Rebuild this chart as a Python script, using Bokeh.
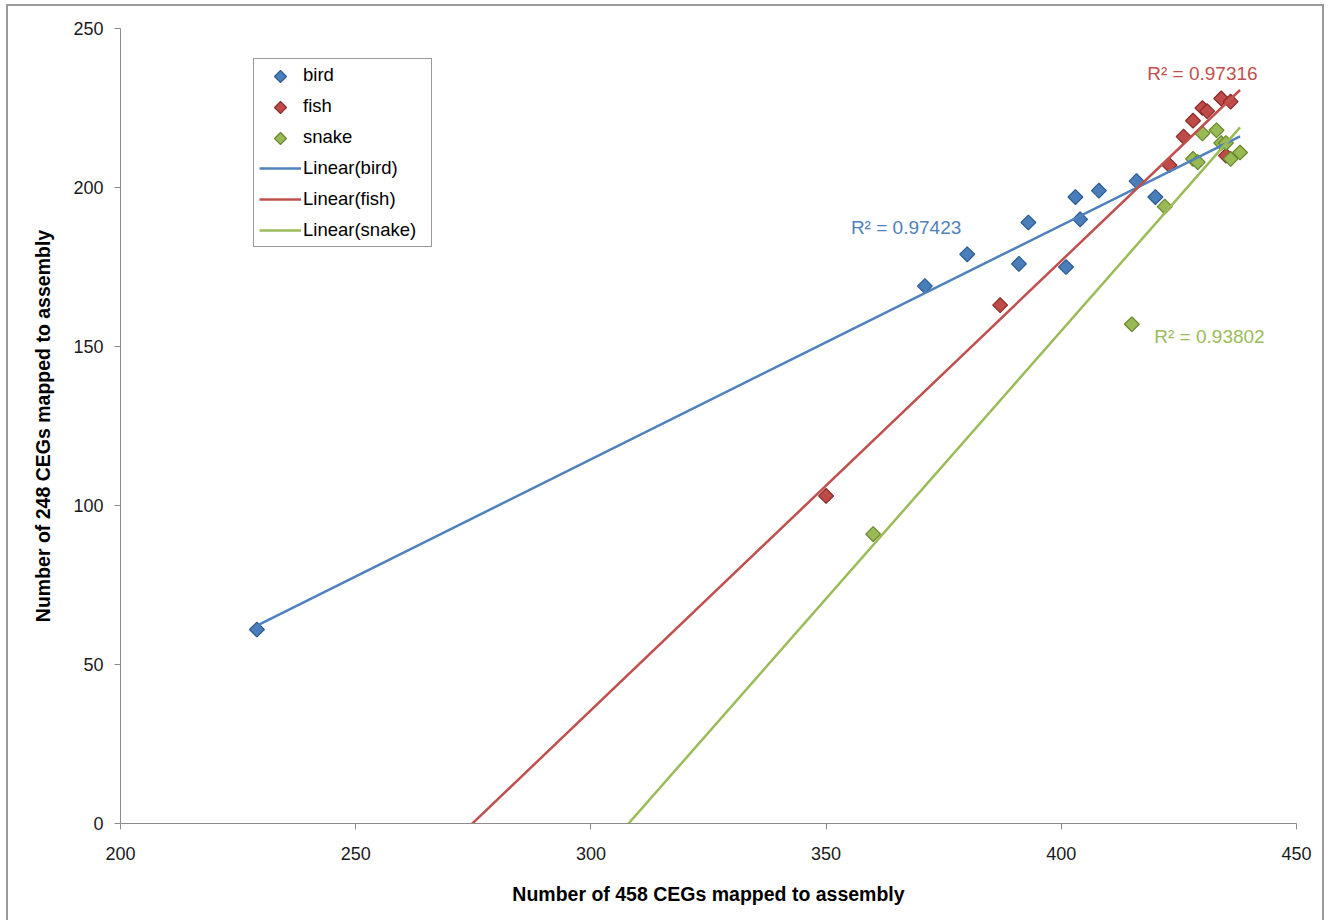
import numpy as np
from bokeh.plotting import figure
from bokeh.models import (ColumnDataSource, Legend, LegendItem, Label, FixedTicker, Range1d)
from bokeh.embed import file_html
from bokeh.resources import INLINE

# ---- data ----
bird_x = [229, 371, 380, 391, 393, 401, 403, 404, 408, 416, 420]
bird_y = [61, 169, 179, 176, 189, 175, 197, 190, 199, 202, 197]
fish_x = [350, 387, 423, 426, 428, 430, 431, 434, 436, 435]
fish_y = [103, 163, 207, 216, 221, 225, 224, 228, 227, 210]
snake_x = [360, 415, 422, 428, 429, 430, 433, 434, 435, 436, 438]
snake_y = [91, 157, 194, 209, 208, 217, 218, 214, 214, 209, 211]
r2_labels = ["R\u00b2 = 0.97423", "R\u00b2 = 0.97316", "R\u00b2 = 0.93802"]
x_ticks = [200, 250, 300, 350, 400, 450]
y_ticks = [0, 50, 100, 150, 200, 250]

FONT = "'Liberation Sans', Arial, sans-serif"
NARROW = "'Liberation Sans Narrow', 'Arial Narrow', 'Liberation Sans', sans-serif"

colors = {"bird": ("#4a7ebb", "#2c5b92", "#4f81bd"),
          "fish": ("#be4b48", "#8a2b29", "#c0504d"),
          "snake": ("#98b954", "#66862c", "#9bbb59")}

X0, X1, Y0, Y1 = 200, 450, 0, 250
W, H = 1318, 916
BL, BR, BT, BB = 112, 30, 22, 99
FW, FH = W - BL - BR, H - BT - BB

p = figure(width=W, height=H, output_backend="svg", toolbar_location=None,
           x_range=Range1d(X0, X1), y_range=Range1d(Y0, Y1),
           min_border_left=BL, min_border_right=BR, min_border_top=BT, min_border_bottom=BB)
p.styles = {"margin-left": "6px", "margin-top": "4px",
            "border-left": "2px solid #9a9a9a", "border-right": "2px solid #9a9a9a",
            "border-top": "2px solid #9a9a9a"}
p.xgrid.visible = False
p.ygrid.visible = False
p.outline_line_color = None
p.background_fill_color = "white"
p.border_fill_color = "white"

for ax in (p.xaxis[0], p.yaxis[0]):
    ax.axis_line_color = "#8c8c8c"
    ax.major_tick_line_color = "#8c8c8c"
    ax.minor_tick_line_color = None
    ax.major_tick_out = 6
    ax.major_tick_in = 0
    ax.major_label_text_font = FONT
    ax.major_label_text_font_size = "18px"
    ax.major_label_text_color = "#1a1a1a"
    ax.axis_label_text_font = NARROW
    ax.axis_label_text_font_size = "19.5px"
    ax.axis_label_text_font_style = "bold"
    ax.axis_label_text_color = "black"
p.xaxis[0].ticker = FixedTicker(ticks=x_ticks)
p.yaxis[0].ticker = FixedTicker(ticks=y_ticks)
p.xaxis[0].major_label_standoff = 17
p.yaxis[0].major_label_standoff = 11
p.xaxis[0].axis_label = "Number of 458 CEGs mapped to assembly"
p.yaxis[0].axis_label = "Number of 248 CEGs mapped to assembly"
p.xaxis[0].axis_label_standoff = 20
p.yaxis[0].axis_label_standoff = 16

series = [("bird", bird_x, bird_y), ("fish", fish_x, fish_y), ("snake", snake_x, snake_y)]
allx = bird_x + fish_x + snake_x
xmin, xmax = min(allx), max(allx)

scatter_renderers = []
line_renderers = []
for name, xs, ys in series:
    fill, edge, lc = colors[name]
    src = ColumnDataSource(dict(x=xs, y=ys))
    p.scatter("x", "y", source=src, marker="square", size=10.5, angle=np.pi / 4,
              fill_color=fill, line_color=edge, line_width=1.2)
    # invisible stand-in for the legend row (rotated marker drawn beneath)
    dummy = p.scatter(x=[], y=[], marker="square", fill_alpha=0, line_alpha=0)
    scatter_renderers.append((name, dummy))

for name, xs, ys in series:
    fill, edge, lc = colors[name]
    m, b = np.polyfit(np.array(xs, float), np.array(ys, float), 1)
    lx = [xmin, xmax]
    ly = [m * xmin + b, m * xmax + b]
    lr = p.line(lx, ly, line_color=lc, line_width=2.5)
    line_renderers.append((name, lr))

# R² labels
label_pos = [(367, 187.5), (430, 236), (431.5, 153)]
for (name, _, _), txt, (lx, ly) in zip(series, r2_labels, label_pos):
    p.add_layout(Label(x=lx, y=ly, text=txt, text_align="center", text_baseline="middle",
                       text_font=FONT, text_font_size="19px", text_color=colors[name][2]))

LEG_X, LEG_Y = 133, 576
PAD, ROW_H, SPACING, GW = 5, 22, 9, 42
items = [LegendItem(label=n, renderers=[r]) for n, r in scatter_renderers]
items += [LegendItem(label=f"Linear({n})", renderers=[r]) for n, r in line_renderers]
legend = Legend(items=items, location=(LEG_X, LEG_Y), orientation="vertical",
                label_text_font=FONT, label_text_font_size="18.5px", label_text_color="black",
                border_line_color="#333333", border_line_width=1.5, background_fill_alpha=0,
                padding=PAD, spacing=SPACING, glyph_width=GW, glyph_height=ROW_H,
                label_height=ROW_H, label_width=123, label_standoff=2, margin=0)
p.add_layout(legend, "center")

# legend diamond icons (rotated squares), positioned from the legend layout
leg_h = 2 * PAD + 6 * ROW_H + 5 * SPACING
for i, (name, _, _) in enumerate(series):
    fill, edge, lc = colors[name]
    sx = LEG_X + PAD + GW / 2 + 1
    sy = LEG_Y + leg_h - PAD - ROW_H / 2 - i * (ROW_H + SPACING)
    p.scatter(x=[X0 + sx / FW * (X1 - X0)], y=[Y0 + sy / FH * (Y1 - Y0)],
              marker="square", size=8.5, angle=np.pi / 4,
              fill_color=fill, line_color=edge, line_width=1.1)

open("out.html", "w").write(file_html(p, INLINE))
